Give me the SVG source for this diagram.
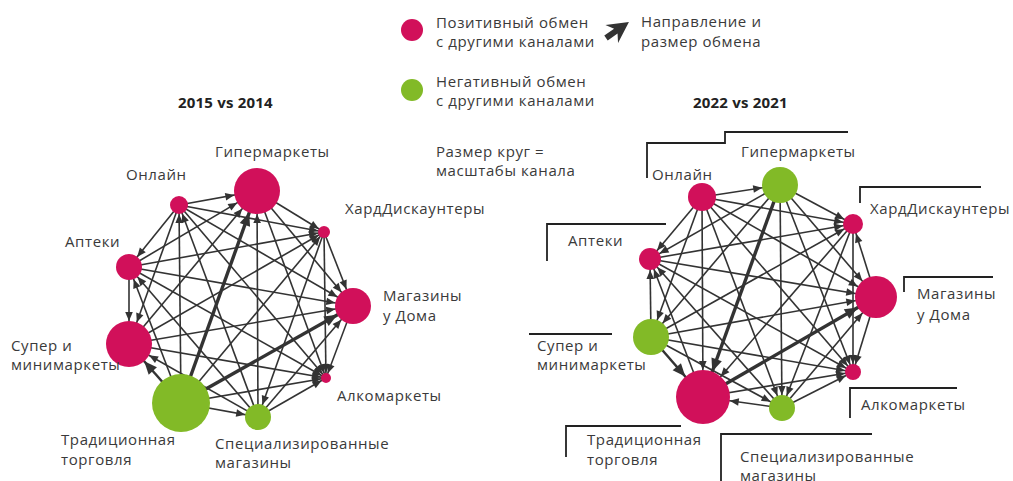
<svg xmlns="http://www.w3.org/2000/svg" width="1013" height="481" viewBox="0 0 1013 481">
<style>
text{font-family:"Open Sans","Noto Sans",sans-serif;font-size:15px;fill:#3a3a3a;letter-spacing:0.6px}
.t{font-weight:bold;fill:#222;letter-spacing:0.2px}
.e line{stroke:#333;stroke-width:1.6;fill:none}
.e line.k{stroke-width:3.4}
.e line.m{stroke-width:2.5}
.r{fill:#D1105A}
.g{fill:#82BA27}
.br{fill:none;stroke:#222;stroke-width:1.8}
marker path{fill:#333}
</style>
<defs>
<marker id="a5" markerUnits="userSpaceOnUse" viewBox="-60 -10 70 20" markerWidth="70" markerHeight="20" refX="0" refY="0" orient="auto" overflow="visible"><path d="M-5,0 L-14,-3.8 L-14,3.8Z"/></marker>
<marker id="a6" markerUnits="userSpaceOnUse" viewBox="-60 -10 70 20" markerWidth="70" markerHeight="20" refX="0" refY="0" orient="auto" overflow="visible"><path d="M-6,0 L-15,-3.8 L-15,3.8Z"/></marker>
<marker id="a8" markerUnits="userSpaceOnUse" viewBox="-60 -10 70 20" markerWidth="70" markerHeight="20" refX="0" refY="0" orient="auto" overflow="visible"><path d="M-8,0 L-17,-3.8 L-17,3.8Z"/></marker>
<marker id="a9" markerUnits="userSpaceOnUse" viewBox="-60 -10 70 20" markerWidth="70" markerHeight="20" refX="0" refY="0" orient="auto" overflow="visible"><path d="M-9,0 L-18,-3.8 L-18,3.8Z"/></marker>
<marker id="a10" markerUnits="userSpaceOnUse" viewBox="-60 -10 70 20" markerWidth="70" markerHeight="20" refX="0" refY="0" orient="auto" overflow="visible"><path d="M-10,0 L-19,-3.8 L-19,3.8Z"/></marker>
<marker id="a11" markerUnits="userSpaceOnUse" viewBox="-60 -10 70 20" markerWidth="70" markerHeight="20" refX="0" refY="0" orient="auto" overflow="visible"><path d="M-11,0 L-20,-3.8 L-20,3.8Z"/></marker>
<marker id="a13" markerUnits="userSpaceOnUse" viewBox="-60 -10 70 20" markerWidth="70" markerHeight="20" refX="0" refY="0" orient="auto" overflow="visible"><path d="M-13,0 L-22,-3.8 L-22,3.8Z"/></marker>
<marker id="a18" markerUnits="userSpaceOnUse" viewBox="-60 -10 70 20" markerWidth="70" markerHeight="20" refX="0" refY="0" orient="auto" overflow="visible"><path d="M-18,0 L-27,-3.8 L-27,3.8Z"/></marker>
<marker id="a21" markerUnits="userSpaceOnUse" viewBox="-60 -10 70 20" markerWidth="70" markerHeight="20" refX="0" refY="0" orient="auto" overflow="visible"><path d="M-21,0 L-30,-3.8 L-30,3.8Z"/></marker>
<marker id="a23" markerUnits="userSpaceOnUse" viewBox="-60 -10 70 20" markerWidth="70" markerHeight="20" refX="0" refY="0" orient="auto" overflow="visible"><path d="M-23,0 L-32,-3.8 L-32,3.8Z"/></marker>
<marker id="a27" markerUnits="userSpaceOnUse" viewBox="-60 -10 70 20" markerWidth="70" markerHeight="20" refX="0" refY="0" orient="auto" overflow="visible"><path d="M-27,0 L-36,-3.8 L-36,3.8Z"/></marker>
<marker id="k18" markerUnits="userSpaceOnUse" viewBox="-60 -10 70 20" markerWidth="70" markerHeight="20" refX="0" refY="0" orient="auto" overflow="visible"><path d="M-18,0 L-31,-5.5 L-31,5.5Z"/></marker>
<marker id="k21" markerUnits="userSpaceOnUse" viewBox="-60 -10 70 20" markerWidth="70" markerHeight="20" refX="0" refY="0" orient="auto" overflow="visible"><path d="M-21,0 L-34,-5.5 L-34,5.5Z"/></marker>
<marker id="k23" markerUnits="userSpaceOnUse" viewBox="-60 -10 70 20" markerWidth="70" markerHeight="20" refX="0" refY="0" orient="auto" overflow="visible"><path d="M-23,0 L-36,-5.5 L-36,5.5Z"/></marker>
<marker id="k27" markerUnits="userSpaceOnUse" viewBox="-60 -10 70 20" markerWidth="70" markerHeight="20" refX="0" refY="0" orient="auto" overflow="visible"><path d="M-27,0 L-40,-5.5 L-40,5.5Z"/></marker>
</defs>
<rect width="1013" height="481" fill="#fff"/>

<g id="legend">
<circle class="r" cx="412" cy="30" r="11"/>
<text x="436" y="28">Позитивный обмен</text>
<text x="436" y="47">с другими каналами</text>
<path d="M28,0 L7,-11 L12,-3 L0,-3 L0,3 L12,3 L7,11Z" fill="#333" transform="translate(606,38) rotate(-35)"/>
<text x="641" y="27">Направление и</text>
<text x="641" y="47">размер обмена</text>
<circle class="g" cx="412" cy="90" r="11"/>
<text x="436" y="87">Негативный обмен</text>
<text x="436" y="106">с другими каналами</text>
<text x="436" y="157">Размер круг =</text>
<text x="436" y="176">масштабы канала</text>
</g>

<text class="t" x="178" y="108">2015 vs 2014</text>
<text class="t" x="693" y="108">2022 vs 2021</text>

<g id="connectors-2015" class="e">
<line x1="179" y1="205" x2="257" y2="191" marker-end="url(#a23)"/>
<line x1="179" y1="205" x2="324" y2="232" marker-end="url(#a6)"/>
<line x1="179" y1="205" x2="353" y2="306" marker-end="url(#a18)"/>
<line x1="179" y1="205" x2="326" y2="378" marker-end="url(#a5)"/>
<line x1="258" y1="417" x2="179" y2="205" marker-end="url(#a9)"/>
<line x1="181" y1="403" x2="179" y2="205" marker-end="url(#a9)"/>
<line x1="179" y1="205" x2="129" y2="344" marker-end="url(#a23)"/>
<line x1="179" y1="205" x2="129" y2="267" marker-end="url(#a13)"/>
<line x1="257" y1="191" x2="324" y2="232" marker-end="url(#a6)"/>
<line x1="257" y1="191" x2="353" y2="306" marker-end="url(#a18)"/>
<line x1="257" y1="191" x2="326" y2="378" marker-end="url(#a5)"/>
<line x1="258" y1="417" x2="257" y2="191" marker-end="url(#a23)"/>
<line class="k" x1="181" y1="403" x2="257" y2="191" marker-end="url(#k23)"/>
<line x1="129" y1="344" x2="257" y2="191" marker-end="url(#a23)"/>
<line x1="129" y1="267" x2="257" y2="191" marker-end="url(#a23)"/>
<line x1="324" y1="232" x2="353" y2="306" marker-end="url(#a18)"/>
<line x1="324" y1="232" x2="326" y2="378" marker-end="url(#a5)"/>
<line x1="324" y1="232" x2="258" y2="417" marker-end="url(#a13)"/>
<line x1="181" y1="403" x2="324" y2="232" marker-end="url(#a6)"/>
<line x1="129" y1="344" x2="324" y2="232" marker-end="url(#a6)"/>
<line x1="129" y1="267" x2="324" y2="232" marker-end="url(#a6)"/>
<line x1="353" y1="306" x2="326" y2="378" marker-end="url(#a5)"/>
<line x1="258" y1="417" x2="353" y2="306" marker-end="url(#a18)"/>
<line class="k" x1="181" y1="403" x2="353" y2="306" marker-end="url(#k18)"/>
<line x1="129" y1="344" x2="353" y2="306" marker-end="url(#a18)"/>
<line x1="129" y1="267" x2="353" y2="306" marker-end="url(#a18)"/>
<line x1="258" y1="417" x2="326" y2="378" marker-end="url(#a5)"/>
<line x1="181" y1="403" x2="326" y2="378" marker-end="url(#a5)"/>
<line x1="129" y1="344" x2="326" y2="378" marker-end="url(#a5)"/>
<line x1="129" y1="267" x2="326" y2="378" marker-end="url(#a5)"/>
<line x1="181" y1="403" x2="258" y2="417" marker-end="url(#a13)"/>
<line x1="258" y1="417" x2="129" y2="344" marker-end="url(#a23)"/>
<line x1="258" y1="417" x2="129" y2="267" marker-end="url(#a13)"/>
<line class="m" x1="181" y1="403" x2="129" y2="344" marker-end="url(#k23)"/>
<line x1="181" y1="403" x2="129" y2="267" marker-end="url(#a13)"/>
<line x1="129" y1="267" x2="129" y2="344" marker-end="url(#a23)"/>
</g>

<g id="n15-online"><circle class="r" cx="179" cy="205" r="9"/><text x="126" y="180">Онлайн</text></g>
<g id="n15-hyper"><circle class="r" cx="257" cy="191" r="23"/><text x="215" y="157">Гипермаркеты</text></g>
<g id="n15-hard"><circle class="r" cx="324" cy="232" r="6"/><text x="345" y="214">ХардДискаунтеры</text></g>
<g id="n15-home"><circle class="r" cx="353" cy="306" r="18"/><text x="383" y="301">Магазины</text><text x="383" y="321">у Дома</text></g>
<g id="n15-alco"><circle class="r" cx="326" cy="378" r="5"/><text x="337" y="401">Алкомаркеты</text></g>
<g id="n15-spec"><circle class="g" cx="258" cy="417" r="13"/><text x="215" y="449">Специализированные</text><text x="215" y="468">магазины</text></g>
<g id="n15-trad"><circle class="g" cx="181" cy="403" r="29"/><text x="61" y="445">Традиционная</text><text x="61" y="465">торговля</text></g>
<g id="n15-super"><circle class="r" cx="129" cy="344" r="23"/><text x="11" y="351">Супер и</text><text x="11" y="370">минимаркеты</text></g>
<g id="n15-pharm"><circle class="r" cx="129" cy="267" r="13"/><text x="65" y="247">Аптеки</text></g>

<g id="connectors-2022" class="e">
<line x1="702" y1="197" x2="780" y2="185" marker-end="url(#a18)"/>
<line x1="702" y1="197" x2="853" y2="224" marker-end="url(#a10)"/>
<line x1="702" y1="197" x2="876" y2="297" marker-end="url(#a21)"/>
<line x1="702" y1="197" x2="853" y2="372" marker-end="url(#a8)"/>
<line x1="702" y1="197" x2="782" y2="408" marker-end="url(#a13)"/>
<line x1="702" y1="197" x2="703" y2="397" marker-end="url(#a27)"/>
<line x1="702" y1="197" x2="651" y2="337" marker-end="url(#a18)"/>
<line x1="702" y1="197" x2="650" y2="259" marker-end="url(#a11)"/>
<line x1="780" y1="185" x2="853" y2="224" marker-end="url(#a10)"/>
<line x1="780" y1="185" x2="876" y2="297" marker-end="url(#a21)"/>
<line x1="780" y1="185" x2="853" y2="372" marker-end="url(#a8)"/>
<line x1="780" y1="185" x2="782" y2="408" marker-end="url(#a13)"/>
<line class="k" x1="780" y1="185" x2="703" y2="397" marker-end="url(#k27)"/>
<line x1="780" y1="185" x2="651" y2="337" marker-end="url(#a18)"/>
<line x1="780" y1="185" x2="650" y2="259" marker-end="url(#a11)"/>
<line x1="876" y1="297" x2="853" y2="224" marker-end="url(#a10)"/>
<line x1="853" y1="224" x2="853" y2="372" marker-end="url(#a8)"/>
<line x1="853" y1="224" x2="782" y2="408" marker-end="url(#a13)"/>
<line x1="853" y1="224" x2="703" y2="397" marker-end="url(#a27)"/>
<line x1="651" y1="337" x2="853" y2="224" marker-end="url(#a10)"/>
<line x1="650" y1="259" x2="853" y2="224" marker-end="url(#a10)"/>
<line x1="876" y1="297" x2="853" y2="372" marker-end="url(#a8)"/>
<line x1="782" y1="408" x2="876" y2="297" marker-end="url(#a21)"/>
<line class="k" x1="703" y1="397" x2="876" y2="297" marker-end="url(#k21)"/>
<line x1="651" y1="337" x2="876" y2="297" marker-end="url(#a21)"/>
<line x1="650" y1="259" x2="876" y2="297" marker-end="url(#a21)"/>
<line x1="782" y1="408" x2="853" y2="372" marker-end="url(#a8)"/>
<line x1="703" y1="397" x2="853" y2="372" marker-end="url(#a8)"/>
<line x1="651" y1="337" x2="853" y2="372" marker-end="url(#a8)"/>
<line x1="650" y1="259" x2="853" y2="372" marker-end="url(#a8)"/>
<line x1="782" y1="408" x2="703" y2="397" marker-end="url(#a27)"/>
<line x1="651" y1="337" x2="782" y2="408" marker-end="url(#a13)"/>
<line x1="782" y1="408" x2="650" y2="259" marker-end="url(#a11)"/>
<line class="m" x1="651" y1="337" x2="703" y2="397" marker-end="url(#k27)"/>
<line x1="703" y1="397" x2="650" y2="259" marker-end="url(#a11)"/>
<line x1="651" y1="337" x2="650" y2="259" marker-end="url(#a11)"/>
</g>

<g id="n22-online"><circle class="r" cx="702" cy="197" r="14"/><text x="652" y="180">Онлайн</text></g>
<g id="n22-hyper"><circle class="g" cx="780" cy="185" r="18"/><text x="741" y="157">Гипермаркеты</text></g>
<g id="n22-hard"><circle class="r" cx="853" cy="224" r="10"/><text x="870" y="214">ХардДискаунтеры</text></g>
<g id="n22-home"><circle class="r" cx="876" cy="297" r="21"/><text x="917" y="299">Магазины</text><text x="917" y="320">у Дома</text></g>
<g id="n22-alco"><circle class="r" cx="853" cy="372" r="8"/><text x="861" y="410">Алкомаркеты</text></g>
<g id="n22-spec"><circle class="g" cx="782" cy="408" r="13"/><text x="740" y="462">Специализированные</text><text x="740" y="481">магазины</text></g>
<g id="n22-trad"><circle class="r" cx="703" cy="397" r="27"/><text x="587" y="445">Традиционная</text><text x="587" y="465">торговля</text></g>
<g id="n22-super"><circle class="g" cx="651" cy="337" r="18"/><text x="537" y="351">Супер и</text><text x="537" y="370">минимаркеты</text></g>
<g id="n22-pharm"><circle class="r" cx="650" cy="259" r="11"/><text x="568" y="246">Аптеки</text></g>

<g id="label-frames">
<polyline class="br" points="647,178 647,143 725,143 725,132 848,132"/>
<polyline class="br" points="860,203 860,187 981,187"/>
<polyline class="br" points="904,292 904,277 993,277"/>
<polyline class="br" points="547,261 547,224 666,224"/>
<polyline class="br" points="529,334 612,334"/>
<polyline class="br" points="850,418 850,388 957,388"/>
<polyline class="br" points="566,457 566,426 681,426"/>
<polyline class="br" points="721,481 721,434 872,434"/>
</g>
</svg>
